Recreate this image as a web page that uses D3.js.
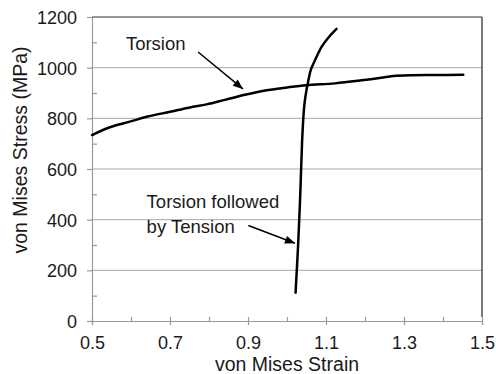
<!DOCTYPE html>
<html>
<head>
<meta charset="utf-8">
<script src="https://cdn.jsdelivr.net/npm/d3@7"></script>
<style>
  html, body { margin: 0; padding: 0; background: #fff; }
  svg { display: block; font-family: "Liberation Sans", Arial, sans-serif; }
</style>
</head>
<body>
<svg id="chart" width="496" height="374"></svg>
<script>
// ---- data ----
const torsionStrain = [0.5, 0.546, 0.597, 0.64, 0.70, 0.751, 0.794, 0.841, 0.892, 0.944, 1.0, 1.05, 1.123, 1.187, 1.25, 1.273, 1.315, 1.38, 1.452];
const torsionStress = [734, 765, 787, 806, 826, 843, 855, 873, 893, 910, 922, 931, 938, 949, 962, 967, 970, 971, 972];
const tensionStrain = [1.022, 1.0285, 1.034, 1.0385, 1.0418, 1.045, 1.050, 1.055, 1.061, 1.072, 1.089, 1.108, 1.127];
const tensionStress = [112, 300, 500, 700, 800, 860, 912, 951, 991, 1030, 1083, 1122, 1153];
const xTicks = [0.5, 0.7, 0.9, 1.1, 1.3, 1.5];
const xMinor = [0.6, 0.8, 1.0, 1.2, 1.4];
const yTicks = [0, 200, 400, 600, 800, 1000, 1200];
const yMinor = [100, 300, 500, 700, 900, 1100];
const xTitle = "von Mises Strain";
const yTitle = "von Mises Stress (MPa)";
// annotations (data units)
const torsionLabel = {text: ["Torsion"], x: 0.587, y: 1068, from: [0.772, 1062], to: [0.887, 916]};
const tensionLabel = {text: ["Torsion followed", "by Tension"], x: 0.640, y: 446, from: [0.901, 377], to: [1.0205, 307]};

// ---- layout ----
const margin = {left: 92, top: 17, right: 14, bottom: 53};
const W = 496, H = 374;
const iw = W - margin.left - margin.right, ih = H - margin.top - margin.bottom;
const svg = d3.select("#chart");
const g = svg.append("g").attr("transform", `translate(${margin.left},${margin.top})`);
const x = d3.scaleLinear().domain([0.5, 1.5]).range([0, iw]);
const y = d3.scaleLinear().domain([0, 1200]).range([ih, 0]);

const textColor = "#1a1a1a";
const gridColor = "#a8a8a8";
const axisColor = "#9a9a9a";

// gridlines
g.append("g").selectAll("line").data(yTicks.filter(v => v > 0 && v < 1200)).join("line")
  .attr("x1", 0).attr("x2", iw).attr("y1", d => y(d)).attr("y2", d => y(d))
  .attr("stroke", gridColor).attr("stroke-width", 1);
// top and right border
g.append("line").attr("x1", 0).attr("x2", iw).attr("y1", y(1200)).attr("y2", y(1200))
  .attr("stroke", "#333").attr("stroke-width", 1);
g.append("line").attr("x1", iw).attr("x2", iw).attr("y1", y(1200)).attr("y2", ih - 4)
  .attr("stroke", "#222").attr("stroke-width", 1.2);

// y axis
const yAxis = g.append("g").call(d3.axisLeft(y).tickValues(yTicks).tickSize(5).tickPadding(10).tickFormat(d3.format("d")));
const yMinorAxis = g.append("g").call(d3.axisRight(y).tickValues(yMinor).tickSize(5).tickFormat(""));
// x axis
const xAxis = g.append("g").attr("transform", `translate(0,${ih})`)
  .call(d3.axisBottom(x).tickValues(xTicks).tickSize(4).tickPadding(11).tickFormat(d3.format(".1f")));
xAxis.selectAll(".tick line").attr("y1", -4);
const xMinorAxis = g.append("g").attr("transform", `translate(0,${ih})`)
  .call(d3.axisBottom(x).tickValues(xMinor).tickSize(-4).tickFormat(""));

[yAxis, yMinorAxis, xAxis, xMinorAxis].forEach(a => {
  a.select(".domain").attr("stroke", axisColor).attr("stroke-width", 1.2);
  a.selectAll(".tick line").attr("stroke", axisColor).attr("stroke-width", 1.2);
  a.selectAll(".tick text").attr("fill", textColor).style("font-size", "18px")
    .style("font-family", '"Liberation Sans", Arial, sans-serif');
});
yAxis.selectAll(".tick text").attr("dy", "0.36em");
yMinorAxis.select(".domain").remove();
xMinorAxis.select(".domain").remove();

// axis titles
svg.append("text").attr("x", margin.left + iw / 2).attr("y", 371)
  .attr("text-anchor", "middle").attr("fill", textColor).style("font-size", "19.5px").text(xTitle);
svg.append("text").attr("transform", `translate(27,150) rotate(-90)`)
  .attr("text-anchor", "middle").attr("fill", textColor).style("font-size", "19.5px").text(yTitle);

// curves
const line = d3.line().x(d => x(d[0])).y(d => y(d[1])).curve(d3.curveCatmullRom.alpha(0.5));
g.append("path").datum(torsionStrain.map((s, i) => [s, torsionStress[i]]))
  .attr("d", line).attr("fill", "none").attr("stroke", "#000").attr("stroke-width", 2.5)
  .attr("stroke-linecap", "round").attr("stroke-linejoin", "round");
g.append("path").datum(tensionStrain.map((s, i) => [s, tensionStress[i]]))
  .attr("d", line).attr("fill", "none").attr("stroke", "#000").attr("stroke-width", 2.5)
  .attr("stroke-linecap", "round").attr("stroke-linejoin", "round");

// arrow marker
svg.append("defs").append("marker").attr("id", "arrow")
  .attr("viewBox", "0 0 10 8").attr("refX", 10).attr("refY", 4)
  .attr("markerWidth", 11).attr("markerHeight", 8).attr("markerUnits", "userSpaceOnUse")
  .attr("orient", "auto")
  .append("path").attr("d", "M0,0 L10,4 L0,8 Z").attr("fill", "#000");

[torsionLabel, tensionLabel].forEach(a => {
  const t = g.append("text").attr("x", x(a.x)).attr("y", y(a.y)).attr("fill", textColor).style("font-size", "18.5px");
  a.text.forEach((s, i) => t.append("tspan").attr("x", x(a.x)).attr("dy", i === 0 ? 0 : 25).text(s));
  g.append("line").attr("x1", x(a.from[0])).attr("y1", y(a.from[1]))
    .attr("x2", x(a.to[0])).attr("y2", y(a.to[1]))
    .attr("stroke", "#000").attr("stroke-width", 1.5).attr("marker-end", "url(#arrow)");
});
</script>
</body>
</html>
